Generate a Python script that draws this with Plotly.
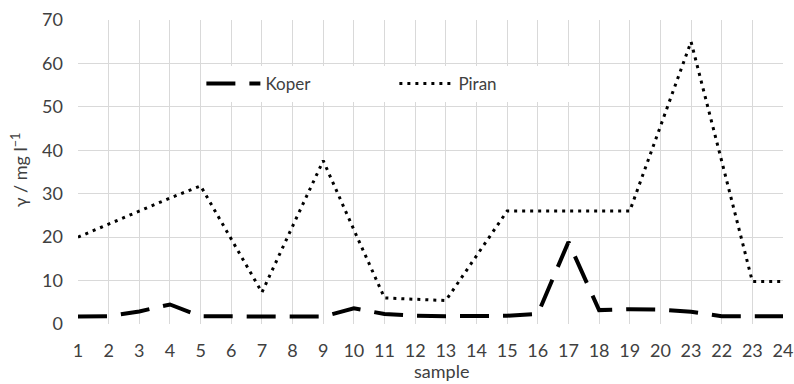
import plotly.graph_objects as go

positions = list(range(1, 25))
tick_labels = ["1", "2", "3", "4", "5", "6", "7", "8", "9", "10", "11", "12",
               "13", "14", "15", "16", "17", "18", "19", "20", "23", "22", "23", "24"]
koper = [1.7, 1.8, 2.9, 4.5, 1.8, 1.7, 1.7, 1.7, 1.7, 3.6, 2.3, 1.9,
         1.8, 1.8, 1.9, 2.3, 18.9, 3.2, 3.4, 3.3, 2.8, 1.8, 1.8, 1.8]
piran = [20, 23, 26, 29, 31.8, 19.5, 7.3, 22.5, 37.6, 21.7, 6.0, 5.7,
         5.4, 15.7, 26, 26, 26, 26, 26, 45.5, 65, 37.5, 9.8, 9.8]

font_family = "Lato, 'Open Sans', sans-serif"
text_color = "#404040"

fig = go.Figure()
fig.add_trace(go.Scatter(
    x=positions, y=koper, name="Koper", mode="lines",
    line=dict(color="black", width=4, dash="29px,14px"),
))
fig.add_trace(go.Scatter(
    x=positions, y=piran, name="Piran", mode="lines",
    line=dict(color="black", width=3, dash="3px,5px"),
))

fig.update_layout(
    width=794, height=384,
    margin=dict(l=78, r=11, t=19.5, b=59.5, autoexpand=False),
    paper_bgcolor="white", plot_bgcolor="white",
    font=dict(family=font_family, color=text_color, size=18),
    showlegend=True,
    legend=dict(
        orientation="h", x=0.175, y=0.79, xanchor="left", yanchor="middle",
        bgcolor="white", font=dict(size=17, color=text_color),
        entrywidth=124, entrywidthmode="pixels", itemwidth=54,
    ),
    xaxis=dict(
        range=[1, 24], tickmode="array", tickvals=positions, ticktext=tick_labels,
        showgrid=True, gridcolor="#d9d9d9", gridwidth=1, automargin=False,
        zeroline=False, showline=False, ticks="", ticklabelstandoff=14,
        tickfont=dict(size=18, color=text_color),
    ),
    yaxis=dict(
        range=[0, 70], tickmode="linear", tick0=0, dtick=10,
        showgrid=True, gridcolor="#d9d9d9", gridwidth=1, automargin=False,
        zeroline=False, showline=False, ticks="", ticklabelstandoff=14,
        tickfont=dict(size=18, color=text_color),
    ),
    annotations=[
        dict(text="sample", xref="paper", yref="paper", x=0.516, y=-0.156,
             showarrow=False, xanchor="center", yanchor="middle",
             font=dict(size=18, color=text_color)),
        dict(text="γ / mg l<sup>−1</sup>", xref="paper", yref="paper",
             x=-0.083, y=0.507, textangle=-90, showarrow=False,
             xanchor="center", yanchor="middle",
             font=dict(size=18, color=text_color)),
    ],
)

fig.write_html("out.html",
               config={"displayModeBar": False},
               post_script="document.body.style.margin='0';document.body.style.overflow='hidden';")
